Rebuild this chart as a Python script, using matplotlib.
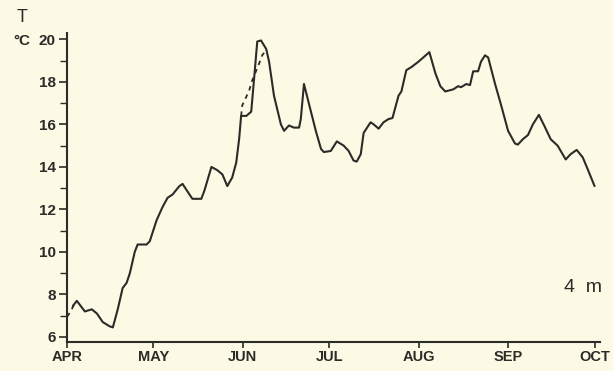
import matplotlib
matplotlib.use('Agg')
import matplotlib.pyplot as plt
from matplotlib.ticker import MultipleLocator

# water temperature at 4 m depth, days counted from 1 April
days = [2.0, 3.4, 6.2, 8.6, 10.4, 12.4, 14.8, 15.9, 17.6, 19.3, 20.7, 21.8,
        23.5, 24.5, 27.6, 28.7, 31.1, 33.1, 34.9, 36.6, 39.0, 40.1, 42.5,
        43.5, 46.6, 47.7, 50.1, 52.1, 53.9, 55.6, 57.3, 58.7, 59.7, 60.4,
        62.2, 63.9, 64.9, 66.0, 67.3, 69.1, 70.1, 71.8, 74.2, 75.3, 77.0,
        78.7, 80.5, 81.1, 82.2, 86.3, 88.1, 89.1, 91.5, 93.6, 96.0, 97.7,
        99.4, 100.5, 101.9, 102.9, 105.3, 106.4, 108.1, 109.8, 111.5, 112.9,
        115.0, 116.0, 117.7, 119.5, 121.9, 125.7, 127.8, 129.5, 131.2, 134.0,
        135.7, 136.7, 138.5, 139.8, 140.9, 142.6, 143.6, 145.0, 146.1, 148.5,
        150.6, 153.0, 155.4, 156.4, 158.1, 159.9, 161.6, 163.7, 165.7, 167.8,
        170.2, 173.0, 174.7, 176.8, 178.9, 180.6, 183.0]
temp = [7.45, 7.7, 7.2, 7.3, 7.1, 6.7, 6.5, 6.45, 7.3, 8.3, 8.55, 9.0,
        10.0, 10.35, 10.35, 10.5, 11.5, 12.1, 12.55, 12.7, 13.1, 13.2, 12.7,
        12.5, 12.5, 12.9, 14.0, 13.85, 13.65, 13.1, 13.5, 14.2, 15.3, 16.4,
        16.4, 16.6, 18.15, 19.9, 19.95, 19.55, 18.95, 17.35, 16.0, 15.7, 15.95,
        15.85, 15.85, 16.25, 17.9, 15.7, 14.85, 14.7, 14.75, 15.2, 15.0, 14.75,
        14.3, 14.25, 14.6, 15.6, 16.1, 16.0, 15.8, 16.1, 16.25, 16.3,
        17.35, 17.55, 18.55, 18.7, 18.95, 19.4, 18.4, 17.8, 17.55, 17.65,
        17.8, 17.75, 17.9, 17.85, 18.5, 18.5, 18.95, 19.25, 19.15, 17.9,
        16.9, 15.7, 15.1, 15.05, 15.3, 15.5, 16.0, 16.45, 15.9, 15.3,
        15.0, 14.35, 14.6, 14.8, 14.45, 13.9, 13.1]

# second record, shown only where it departs from the first
alt_days_apr = [0.0, 1.3, 2.5]
alt_temp_apr = [6.95, 7.2, 7.55]
alt_days_jun = [60.4, 60.8, 62.2, 63.2, 64.2, 66.6, 67.7, 69.1]
alt_temp_jun = [16.4, 16.9, 17.3, 17.6, 18.05, 18.85, 19.25, 19.5]

month_pos = [0, 30, 61, 91, 122, 153, 183]
month_labels = ['APR', 'MAY', 'JUN', 'JUL', 'AUG', 'SEP', 'OCT']

bg = '#fcf9e5'
ink = '#2b2b27'

plt.rcParams['font.family'] = ['Liberation Sans', 'DejaVu Sans']

fig = plt.figure(figsize=(6.13, 3.71), dpi=100, facecolor=bg)
ax = fig.add_axes([0.1093, 0.078, 0.87, 0.833], facecolor=bg)

ax.plot(days, temp, color=ink, lw=1.5, solid_joinstyle='round',
        solid_capstyle='round')
ax.plot(alt_days_apr, alt_temp_apr, color=ink, lw=1.3, ls=(0, (2.5, 2.5)))
ax.plot(alt_days_jun, alt_temp_jun, color=ink, lw=1.3, ls=(0, (2.5, 2.5)))

ax.set_xlim(0, 185)
ax.set_ylim(5.76, 20.3)

for side in ('top', 'right'):
    ax.spines[side].set_visible(False)
for side in ('left', 'bottom'):
    ax.spines[side].set_linewidth(1.5)
    ax.spines[side].set_color(ink)

ax.set_xticks(month_pos)
ax.set_xticklabels(month_labels, fontsize=10.5, fontweight='bold', color=ink)
ax.yaxis.set_major_locator(MultipleLocator(2))
ax.yaxis.set_minor_locator(MultipleLocator(1))
ax.tick_params(axis='x', direction='out', length=4, width=1.2, pad=1.5, colors=ink)
ax.tick_params(axis='y', which='major', direction='out', length=6, width=1.2,
               pad=2, labelsize=11, colors=ink)
ax.tick_params(axis='y', which='minor', direction='out', length=5, width=1.0, colors=ink)
for lab in ax.get_yticklabels():
    lab.set_fontweight('bold')

fig.text(22 / 613, 1 - 18 / 371, 'T', ha='center', va='center',
         fontsize=13, color=ink)
fig.text(22 / 613, 1 - 41 / 371, '°C', ha='center', va='center',
         fontsize=11, fontweight='bold', color=ink)
fig.text(602 / 613, 1 - 288 / 371, '4  m', ha='right', va='center',
         fontsize=14, color=ink)

fig.savefig('out.png', dpi=100, facecolor=bg)
